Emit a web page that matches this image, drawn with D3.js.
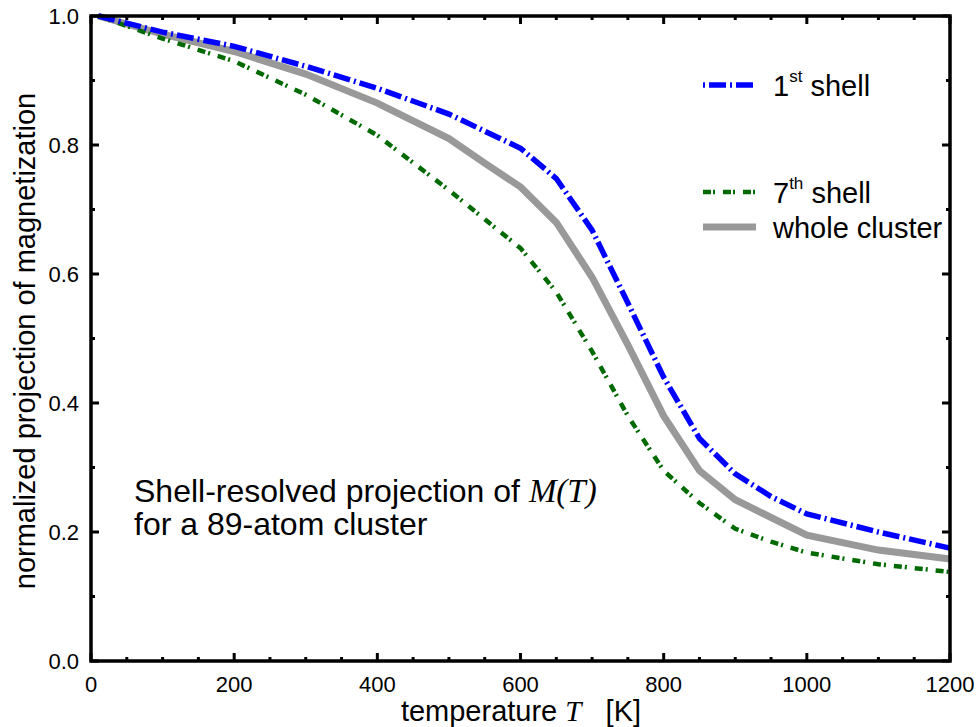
<!DOCTYPE html>
<html><head><meta charset="utf-8">
<script src="https://cdn.jsdelivr.net/npm/d3@7"></script>
<style>body{margin:0;background:#fff}svg{display:block}text{font-family:"Liberation Sans",Arial,sans-serif}</style>
</head><body><svg id="c" width="978" height="727"></svg>
<script>
const temps1 = [10,100,200,300,400,500,600,650,700,750,800,850,900,950,1000,1100,1200];
const shell1 = [1.0,0.975,0.953,0.922,0.888,0.848,0.795,0.748,0.668,0.555,0.44,0.345,0.29,0.255,0.228,0.2,0.175];
const temps7 = [10,100,200,300,400,500,600,650,700,750,800,850,900,950,1000,1100,1200];
const shell7 = [1.0,0.965,0.93,0.878,0.815,0.73,0.64,0.572,0.48,0.38,0.295,0.245,0.205,0.185,0.168,0.15,0.138];
const tempsW = [10,100,200,300,400,500,550,600,650,700,750,800,850,900,1000,1100,1200];
const whole = [1.0,0.972,0.945,0.91,0.865,0.81,0.772,0.735,0.68,0.595,0.49,0.38,0.295,0.25,0.195,0.172,0.158];
const xTicks = [0,200,400,600,800,1000,1200];
const yTicks = [0.0,0.2,0.4,0.6,0.8,1.0];

const svg = d3.select("#c");
const L=91,R=950,T=16,B=661;
const x = d3.scaleLinear().domain([0,1200]).range([L,R]);
const y = d3.scaleLinear().domain([0,1]).range([B,T]);

const line = d3.line().x(d=>x(d[0])).y(d=>y(d[1]));
const g = svg.append("g");
g.append("path").datum(tempsW.map((t,i)=>[t,whole[i]])).attr("d",line)
 .attr("fill","none").attr("stroke","#999").attr("stroke-width",7);
g.append("path").datum(temps7.map((t,i)=>[t,shell7[i]])).attr("d",line)
 .attr("fill","none").attr("stroke","#006a00").attr("stroke-width",4.5).attr("stroke-dasharray","8,3,2,8");
g.append("path").datum(temps1.map((t,i)=>[t,shell1[i]])).attr("d",line)
 .attr("fill","none").attr("stroke","#0000ff").attr("stroke-width",5.5).attr("stroke-dasharray","17,4,2,4");

// axes with inward ticks
const ax = svg.append("g").attr("stroke","#000");
const minorX = d3.range(0,1201,50), minorY = d3.range(0,1.001,0.1);
minorX.forEach(t=>{
  const maj = t%200===0; const len = maj?8:4;
  ax.append("line").attr("x1",x(t)).attr("x2",x(t)).attr("y1",B).attr("y2",B-len).attr("stroke-width",3);
  ax.append("line").attr("x1",x(t)).attr("x2",x(t)).attr("y1",T).attr("y2",T+len).attr("stroke-width",3);
});
minorY.forEach((v,i)=>{
  const maj = i%2===0; const len = maj?8:4;
  ax.append("line").attr("y1",y(v)).attr("y2",y(v)).attr("x1",L).attr("x2",L+len).attr("stroke-width",3);
  ax.append("line").attr("y1",y(v)).attr("y2",y(v)).attr("x1",R).attr("x2",R-len).attr("stroke-width",3);
});
svg.append("rect").attr("x",L).attr("y",T).attr("width",R-L).attr("height",B-T)
 .attr("fill","none").attr("stroke","#000").attr("stroke-width",3.5);

svg.selectAll(".xt").data(xTicks).enter().append("text")
 .attr("x",d=>x(d)).attr("y",692).attr("text-anchor","middle").attr("font-size",22).text(d=>d);
svg.selectAll(".yt").data(yTicks).enter().append("text")
 .attr("x",79).attr("y",d=>y(d)+8).attr("text-anchor","end").attr("font-size",22).text(d=>d.toFixed(1));

const xl = svg.append("text").attr("x",521).attr("y",721).attr("text-anchor","middle").attr("font-size",29);
xl.append("tspan").text("temperature ");
xl.append("tspan").attr("font-family","Liberation Serif,serif").attr("font-style","italic").text("T");
xl.append("tspan").attr("xml:space","preserve").text("   [K]");
svg.append("text").attr("transform","translate(35,341) rotate(-90)").attr("text-anchor","middle")
 .attr("font-size",29).text("normalized projection of magnetization");

const a1 = svg.append("text").attr("x",134).attr("y",502).attr("font-size",32);
a1.append("tspan").text("Shell-resolved projection of ");
a1.append("tspan").attr("font-family","Liberation Serif,serif").attr("font-style","italic").attr("font-size",33).text("M(T)");
svg.append("text").attr("x",134).attr("y",535).attr("font-size",32).text("for a 89-atom cluster");

// legend
const leg = [
 {y:85, color:"#0000ff", w:5.5, dash:"2,4,17,4", lab:"1", sup:"st", rest:" shell"},
 {y:192, color:"#006a00", w:4.5, dash:"8,2,2,8", lab:"7", sup:"th", rest:" shell"},
 {y:227, color:"#999", w:7, dash:null, lab:"whole cluster", sup:null, rest:""}
];
leg.forEach(d=>{
  const l = svg.append("line").attr("x1",703).attr("x2",756).attr("y1",d.y).attr("y2",d.y)
   .attr("stroke",d.color).attr("stroke-width",d.w);
  if(d.dash) l.attr("stroke-dasharray",d.dash);
  const t = svg.append("text").attr("x",773).attr("y",d.y+10.5).attr("font-size",29);
  t.append("tspan").text(d.lab);
  if(d.sup){
    t.append("tspan").attr("font-size",17).attr("dy",-14).text(d.sup);
    t.append("tspan").attr("dy",14).text(d.rest);
  }
});
</script></body></html>
